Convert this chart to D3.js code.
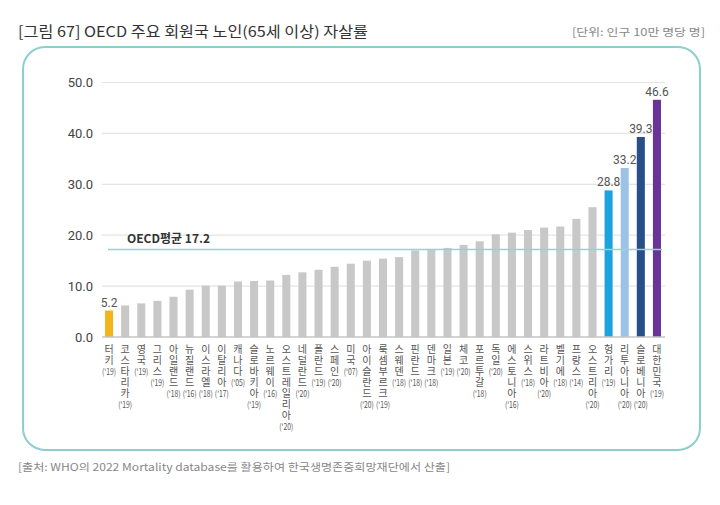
<!DOCTYPE html>
<html><head><meta charset="utf-8">
<script src="https://cdn.jsdelivr.net/npm/d3@7"></script>
<style>
html,body{margin:0;padding:0;background:#fff;}
svg{display:block;font-family:"Noto Sans CJK KR","Noto Sans",sans-serif;}
.vlab{writing-mode:vertical-rl;text-orientation:upright;}
</style></head>
<body>
<svg id="chart" width="720" height="505"></svg>
<script>
const countries = ["터키","코스타리카","영국","그리스","아일랜드","뉴질랜드","이스라엘","이탈리아","캐나다","슬로바키아","노르웨이","오스트레일리아","네덜란드","폴란드","스페인","미국","아이슬란드","룩셈부르크","스웨덴","핀란드","덴마크","일본","체코","포르투갈","독일","에스토니아","스위스","라트비아","벨기에","프랑스","오스트리아","헝가리","리투아니아","슬로베니아","대한민국"];
const years = ["'19","'19","'19","'19","'18","'16","'18","'17","'05","'19","'16","'20","'20","'19","'20","'07","'20","'19","'18","'18","'18","'19","'20","'18","'20","'16","'18","'20","'18","'14","'20","'19","'20","'20","'19"];
const values = [5.2,6.2,6.6,7.1,7.9,9.3,10.1,10.1,10.9,11.0,11.1,12.2,12.7,13.2,13.8,14.4,15.0,15.4,15.7,17.0,17.3,17.5,18.1,18.8,20.2,20.5,21.0,21.5,21.7,23.2,25.5,28.8,33.2,39.3,46.6];
const labeled = ["터키","헝가리","리투아니아","슬로베니아","대한민국"];
const highlightColors = {"터키":"#f2b51c","헝가리":"#1ca3de","리투아니아":"#9dc2e6","슬로베니아":"#2a4e8a","대한민국":"#6a3396"};
const yTicks = [0,10,20,30,40,50];
const oecdAvg = 17.2;
const title = "[그림 67] OECD 주요 회원국 노인(65세 이상) 자살률";
const unitText = "[단위: 인구 10만 명당 명]";
const sourceText = "[출처: WHO의 2022 Mortality database를 활용하여 한국생명존중희망재단에서 산출]";

const svg = d3.select("#chart");

svg.append("text").attr("x",18).attr("y",37).attr("font-size",14.5).attr("fill","#333")
  .attr("textLength",350).attr("lengthAdjust","spacingAndGlyphs").text(title);
svg.append("text").attr("x",705).attr("y",36).attr("text-anchor","end").attr("font-size",10.5).attr("fill","#888")
  .attr("textLength",133).attr("lengthAdjust","spacingAndGlyphs").text(unitText);

svg.append("rect").attr("x",23).attr("y",47).attr("width",677).attr("height",403).attr("rx",22).attr("ry",22)
  .attr("fill","#fff").attr("stroke","#8ccfcd").attr("stroke-width",2);

svg.append("text").attr("x",18).attr("y",471).attr("font-size",10.5).attr("fill","#888")
  .attr("textLength",432).attr("lengthAdjust","spacingAndGlyphs").text(sourceText);

const x = d3.scaleBand().domain(countries).range([101,665]).paddingInner(0.5).paddingOuter(0.25);
const y = d3.scaleLinear().domain([0,50]).range([337,82.5]);

svg.append("g").selectAll("line").data(yTicks.filter(d=>d>0)).join("line")
  .attr("x1",102).attr("x2",665).attr("y1",d=>y(d)).attr("y2",d=>y(d))
  .attr("stroke","#e4e4e4").attr("stroke-width",1.2);

const yAxis = d3.axisLeft(y).tickValues(yTicks).tickFormat(d3.format(".1f")).tickSize(0).tickPadding(0);
const ya = svg.append("g").attr("transform","translate(93,0)").call(yAxis);
ya.select(".domain").remove();
ya.selectAll("text").attr("font-size",13).attr("fill","#444").attr("font-family","Roboto, 'Noto Sans', sans-serif");

svg.selectAll("rect.bar").data(countries).join("rect").attr("class","bar")
  .attr("x",d=>x(d)).attr("width",x.bandwidth())
  .attr("y",(d,i)=>y(values[i])).attr("height",(d,i)=>y(0)-y(values[i]))
  .attr("fill",d=>highlightColors[d]||"#c8c8c8");

svg.append("line").attr("x1",102).attr("x2",665).attr("y1",y(0)).attr("y2",y(0)).attr("stroke","#c4c4c4").attr("stroke-width",1.5);

svg.append("line").attr("x1",108).attr("x2",662).attr("y1",y(oecdAvg)).attr("y2",y(oecdAvg))
  .attr("stroke","#93d4d2").attr("stroke-width",1.5);
svg.append("text").attr("x",127).attr("y",y(oecdAvg)-6).attr("font-size",12).attr("font-weight","bold").attr("fill","#333")
  .text("OECD평균 " + oecdAvg.toFixed(1));

svg.selectAll("text.val").data(countries.filter(c=>labeled.includes(c))).join("text").attr("class","val")
  .attr("x",d=>x(d)+x.bandwidth()/2).attr("y",d=>y(values[countries.indexOf(d)])-4)
  .attr("text-anchor","middle").attr("font-size",12).attr("fill","#555")
  .attr("font-family","Roboto, 'Noto Sans', sans-serif")
  .text(d=>values[countries.indexOf(d)].toFixed(1));

const lab = svg.append("g");
countries.forEach((c,i)=>{
  const cx = x(c)+x.bandwidth()/2;
  const n = Array.from(c).length;
  lab.append("text").attr("class","vlab").attr("x",cx).attr("y",344)
    .attr("font-size",10).attr("letter-spacing",1).attr("fill","#555").text(c);
  lab.append("text").attr("x",cx).attr("y",344+n*11+9).attr("text-anchor","middle")
    .attr("font-size",8.5).attr("fill","#555").attr("textLength",14).attr("lengthAdjust","spacingAndGlyphs")
    .text("(" + years[i] + ")");
});
</script>
</body></html>
